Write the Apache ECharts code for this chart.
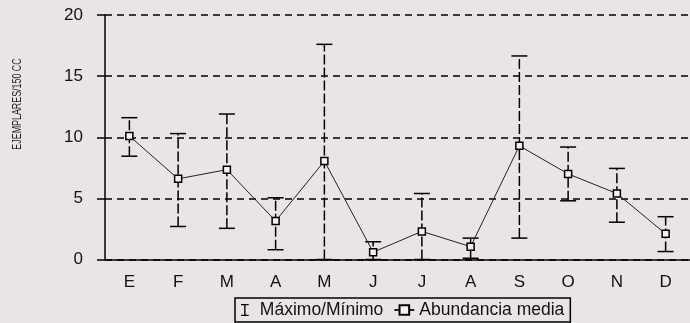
<!DOCTYPE html>
<html>
<head>
<meta charset="utf-8">
<script src="https://cdn.jsdelivr.net/npm/echarts@6/dist/echarts.min.js"></script>
<style>
html,body{margin:0;padding:0;background:#e9e5e7;}
#chart{width:690px;height:323px;}
</style>
</head>
<body>
<div id="chart"></div>
<script>
var months = ['E','F','M','A','M','J','J','A','S','O','N','D'];
var meanValues = [10.1, 6.6, 7.35, 3.15, 8.05, 0.6, 2.3, 1.05, 9.3, 7.0, 5.4, 2.1];
var maxValues  = [11.6, 10.3, 11.9, 5.05, 17.6, 1.45, 5.4, 1.75, 16.65, 9.2, 7.45, 3.5];
var minValues  = [8.45, 2.7, 2.55, 0.8, 0.0, 0.0, 0.0, 0.1, 1.75, 4.8, 3.05, 0.65];
var yTicks = [0, 5, 10, 15, 20];
var yTitle = 'EJEMPLARES/150 CC';
var legendRange = 'Máximo/Mínimo';
var legendMean = 'Abundancia media';

var errData = months.map(function (m, i) { return [i, minValues[i], maxValues[i]]; });

var chart = echarts.init(document.getElementById('chart'), null, {renderer: 'canvas'});
var font = 'Liberation Sans, Arial, sans-serif';
chart.setOption({
  backgroundColor: '#e9e5e7',
  animation: false,
  grid: {left: 105, top: 15, width: 590, height: 244.5, containLabel: false},
  graphic: [{
    type: 'text',
    x: 18, y: 104,
    rotation: Math.PI / 2,
    scaleX: 0.74,
    style: {text: yTitle, fontFamily: font, fontSize: 12, fill: '#222', align: 'center', verticalAlign: 'middle'}
  }],
  legend: {
    left: 235, top: 298,
    padding: [3, 6, 3, 6],
    borderColor: '#000', borderWidth: 1.5,
    itemWidth: 20, itemHeight: 12, itemGap: 10,
    textStyle: {fontFamily: font, fontSize: 17.5, color: '#111'},
    data: [
      {name: legendRange, icon: 'path://M0,0H9V1.6H5.3V12.4H9V14H0V12.4H3.7V1.6H0Z', itemStyle: {color: '#000'}},
      {name: legendMean}
    ]
  },
  xAxis: {
    type: 'category',
    data: months,
    boundaryGap: true,
    axisLine: {lineStyle: {color: '#000', width: 1.5}},
    axisTick: {alignWithLabel: true, length: 9, lineStyle: {color: '#000', width: 1.5}},
    axisLabel: {margin: 14, fontFamily: font, fontSize: 17, color: '#111'},
    splitLine: {show: false}
  },
  yAxis: {
    type: 'value',
    min: 0, max: 20, interval: 5,
    axisLine: {show: true, lineStyle: {color: '#000', width: 1.5}},
    axisTick: {show: true, length: 8, lineStyle: {color: '#000', width: 1.5}},
    axisLabel: {margin: 22, fontFamily: font, fontSize: 17, color: '#111',
      formatter: function (v) { return yTicks.indexOf(v) >= 0 ? String(v) : ''; }},
    splitLine: {show: true, lineStyle: {color: '#000', width: 1.5, type: [7, 5]}}
  },
  series: [
    {
      name: legendRange,
      type: 'custom',
      itemStyle: {color: '#000'},
      data: errData,
      z: 3,
      renderItem: function (params, api) {
        var x = api.value(0);
        var lo = api.coord([x, api.value(1)]);
        var hi = api.coord([x, api.value(2)]);
        var hw = 8;
        return {
          type: 'group',
          children: [
            {type: 'line', shape: {x1: lo[0], y1: lo[1], x2: hi[0], y2: hi[1]},
             style: {stroke: '#000', lineWidth: 1.5, lineDash: [10, 3]}},
            {type: 'line', shape: {x1: hi[0] - hw, y1: hi[1], x2: hi[0] + hw, y2: hi[1]},
             style: {stroke: '#000', lineWidth: 1.5}},
            {type: 'line', shape: {x1: lo[0] - hw, y1: lo[1], x2: lo[0] + hw, y2: lo[1]},
             style: {stroke: '#000', lineWidth: 1.5}}
          ]
        };
      }
    },
    {
      name: legendMean,
      type: 'line',
      data: meanValues,
      z: 4,
      symbol: 'rect',
      symbolSize: 7,
      lineStyle: {color: '#222', width: 1},
      itemStyle: {color: '#f4f2f3', borderColor: '#000', borderWidth: 1.5}
    }
  ]
});
</script>
</body>
</html>
